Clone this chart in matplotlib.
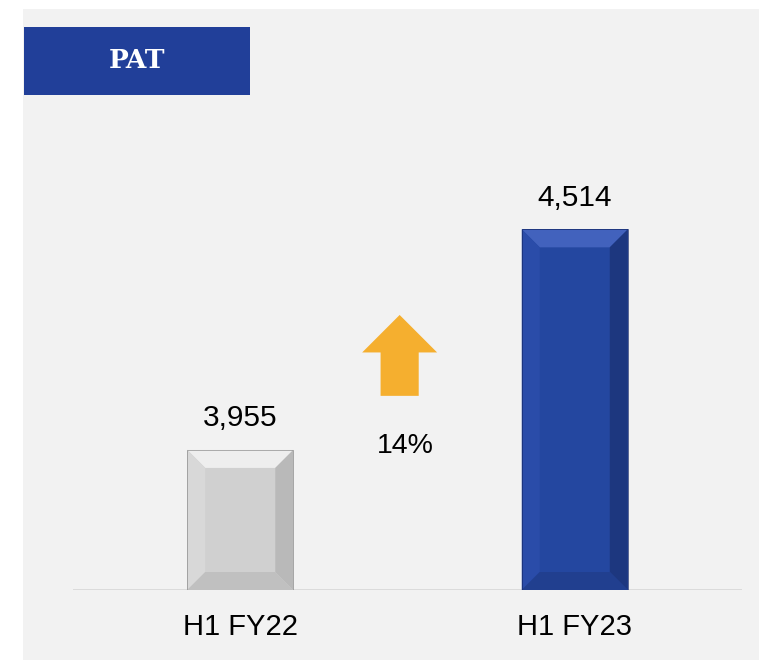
import matplotlib
matplotlib.use('Agg')
import matplotlib.pyplot as plt
from matplotlib.patches import Rectangle, Polygon

# data
categories = ["H1 FY22", "H1 FY23"]
pat_values = [3955, 4514]
value_labels = ["3,955", "4,514"]
growth_label = "14%"

bar_colors = ["#D0D0D0", "#2447A0"]
# bevel shades: top, left, right, bottom
bevel_colors = [
    ["#EEEEEE", "#D8D8D8", "#B9B9B9", "#C0C0C0"],
    ["#4262BD", "#2A4CA9", "#1D377F", "#213F8F"],
]
edge_colors = ["#8C8C8C", "#16296A"]

W, H = 759, 660
fig = plt.figure(figsize=(W / 100, H / 100), dpi=100)
fig.patch.set_facecolor("white")

# grey panel and title box
fig.patches.append(Rectangle((23 / W, 0), 1, (H - 9) / H, transform=fig.transFigure,
                             facecolor="#F2F2F2", edgecolor="none", zorder=-2))
fig.patches.append(Rectangle((24 / W, (H - 95) / H), 226 / W, 68 / H, transform=fig.transFigure,
                             facecolor="#213F99", edgecolor="none", zorder=-1))
fig.text(137 / W, (H - 61) / H, "PAT", color="white", fontsize=19, fontweight="bold",
         family="DejaVu Serif", ha="center", va="center")

ax = fig.add_axes([73 / W, (H - 590) / H, 669 / W, 480 / H])
ax.set_facecolor("none")
y0 = 3600
ax.set_xlim(-0.5, 1.5)
ax.set_ylim(y0, y0 + 480 / 0.3946)
for s in ax.spines.values():
    s.set_visible(False)
ax.set_xticks([])
ax.set_yticks([])
ax.axhline(y0, color="#D9D9D9", lw=1.3, zorder=1)

plt.rcParams['font.family'] = ['Liberation Sans', 'DejaVu Sans']

x = list(range(len(categories)))
bars = ax.bar(x, [v - y0 for v in pat_values], bottom=y0, width=0.317,
              color=bar_colors, edgecolor="none", zorder=2)

# bevel size in data units (about 18 px)
inv = ax.transData.inverted()
p0 = inv.transform(ax.transData.transform((0, y0)))
p1 = inv.transform(ax.transData.transform((0, y0)) + [18, 18])
bx, by = p1[0] - p0[0], p1[1] - p0[1]

for bar, shades, ec in zip(bars, bevel_colors, edge_colors):
    l, b = bar.get_x(), bar.get_y()
    r, t = l + bar.get_width(), b + bar.get_height()
    top = [(l, t), (r, t), (r - bx, t - by), (l + bx, t - by)]
    left = [(l, b), (l, t), (l + bx, t - by), (l + bx, b + by)]
    right = [(r, b), (r, t), (r - bx, t - by), (r - bx, b + by)]
    bottom = [(l, b), (r, b), (r - bx, b + by), (l + bx, b + by)]
    for poly, c in zip([top, left, right, bottom], shades):
        ax.add_patch(Polygon(poly, closed=True, facecolor=c, edgecolor="none", zorder=3))
    ax.add_patch(Rectangle((l, b), r - l, t - b, facecolor="none",
                           edgecolor=ec, lw=0.7, alpha=0.7, zorder=4))

for xi, v, lab in zip(x, pat_values, value_labels):
    ax.annotate(lab, xy=(xi, v), xytext=(0, 17), textcoords="offset points",
                ha="center", va="baseline", fontsize=21.5, color="black")

for xi, lab in zip(x, categories):
    ax.annotate(lab, xy=(xi, y0), xytext=(0, -32.4), textcoords="offset points",
                ha="center", va="baseline", fontsize=21, color="black")

# growth arrow
ax_c = 0.4765
arrow = [(ax_c, 4297), (ax_c + 0.112, 4202), (ax_c + 0.057, 4202), (ax_c + 0.057, 4092),
         (ax_c - 0.057, 4092), (ax_c - 0.057, 4202), (ax_c - 0.112, 4202)]
ax.add_patch(Polygon(arrow, closed=True, facecolor="#F5AF2F", edgecolor="none", zorder=3))
ax.text(0.494, y0 + (590 - 453) / 0.3946, growth_label, ha="center", va="baseline",
        fontsize=20.5, color="black")

fig.savefig("out.png", dpi=100)
